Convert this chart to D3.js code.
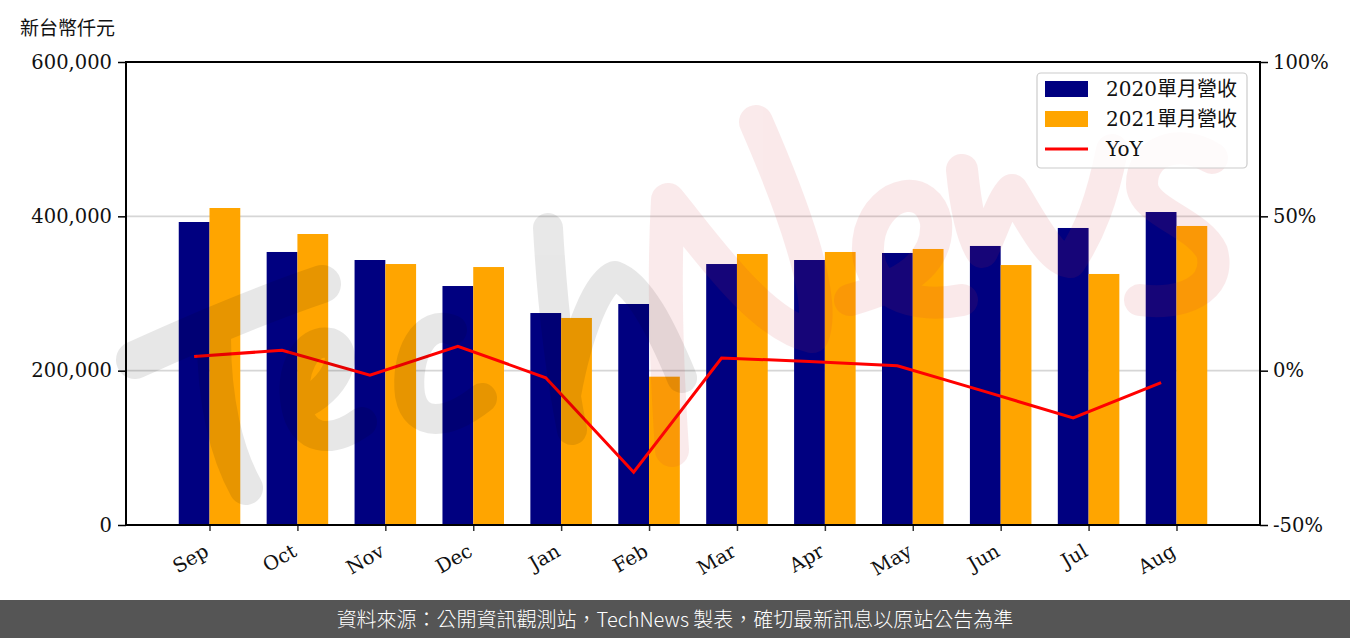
<!DOCTYPE html>
<html><head><meta charset="utf-8">
<script src="https://cdn.jsdelivr.net/npm/d3@7"></script>
<style>
body{margin:0;background:#fff;}
svg{display:block;}
</style></head>
<body>
<svg id="c" width="1350" height="638"></svg>
<script>
const months = ["Sep","Oct","Nov","Dec","Jan","Feb","Mar","Apr","May","Jun","Jul","Aug"];
const rev2020 = [392650, 353800, 343400, 309700, 274700, 286400, 338200, 343400, 352500, 361600, 384900, 405600];
const rev2021 = [410800, 377100, 338200, 334300, 268300, 192200, 351200, 353800, 357700, 336900, 325300, 387500];
const yoy = [4.6, 6.6, -1.5, 7.9, -2.3, -32.9, 4.1, 3.0, 1.6, -6.8, -15.3, -3.9];
const leftTicks = [0, 200000, 400000, 600000];
const rightTicks = [-50, 0, 50, 100];
const seriesNames = ["2020單月營收", "2021單月營收", "YoY"];

const svg = d3.select("#c");
const L = 126, R = 1260, T = 62, B = 525;
const W = 0.35;
const x = d3.scaleLinear().domain([-W/2 - 0.6, months.length - 1 + 1.5*W + 0.6]).range([L, R]);
const y = d3.scaleLinear().domain([0, 600000]).range([B, T]);
const y2 = d3.scaleLinear().domain([-50, 100]).range([B, T]);
const serif = "'DejaVu Serif', 'Liberation Serif', serif";
const cjk = "'Noto Sans CJK TC', 'Noto Sans CJK SC', sans-serif";

// grid
svg.append("g").selectAll("line").data(rightTicks.filter(d => d > -50 && d < 100)).join("line")
  .attr("x1", L).attr("x2", R).attr("y1", d => y2(d)).attr("y2", d => y2(d))
  .attr("stroke", "#d6d6d6").attr("stroke-width", 1.6);

// bars
const bw = x(W) - x(0);
svg.append("g").selectAll("rect").data(rev2020).join("rect")
  .attr("x", (d, i) => x(i) - bw/2).attr("width", bw)
  .attr("y", d => y(d)).attr("height", d => B - y(d)).attr("fill", "#000080");
svg.append("g").selectAll("rect").data(rev2021).join("rect")
  .attr("x", (d, i) => x(i + W) - bw/2).attr("width", bw)
  .attr("y", d => y(d)).attr("height", d => B - y(d)).attr("fill", "#FFA500");

// line
svg.append("path").datum(yoy)
  .attr("d", d3.line().x((d, i) => x(i)).y(d => y2(d)))
  .attr("fill", "none").attr("stroke", "#FF0000").attr("stroke-width", 3);

// watermark (decorative hand-drawn "TechNews")
const wmGray = svg.append("g").attr("opacity", 0.09).attr("fill", "none")
  .attr("stroke", "#000").attr("stroke-linecap", "round").attr("stroke-linejoin", "round");
[
  ["M135,360 C190,335 260,305 322,284", 38],
  ["M214,338 C214,400 226,452 246,488", 34],
  ["M300,405 C335,390 352,352 330,343 C305,338 290,372 296,405 C302,440 330,445 362,422", 30],
  ["M452,330 C425,318 405,355 410,395 C416,428 448,425 482,398", 30],
  ["M548,228 C552,300 560,370 572,430", 30],
  ["M566,395 C578,330 598,282 615,276 C640,285 662,330 682,378", 30]
].forEach(([d, w]) => wmGray.append("path").attr("d", d).attr("stroke-width", w));

const wmPink = svg.append("g").attr("opacity", 0.1).attr("fill", "none")
  .attr("stroke", "#d2323c").attr("stroke-linecap", "round").attr("stroke-linejoin", "round");
[
  ["M672,450 C666,360 664,270 668,200 C705,245 760,325 812,336 C828,300 790,200 756,122", 34],
  ["M850,300 C885,290 940,272 936,222 C928,182 882,190 870,232 C858,282 900,312 962,300", 32],
  ["M962,170 C966,210 972,238 982,252 C996,222 1002,200 1012,190 C1032,222 1050,260 1070,262 C1090,232 1102,200 1112,150", 32],
  ["M1212,158 C1180,138 1142,150 1142,184 C1142,212 1198,222 1212,252 C1222,290 1180,306 1140,300", 32]
].forEach(([d, w]) => wmPink.append("path").attr("d", d).attr("stroke-width", w));

// axes
const fmt = d3.format(",");
const ax = svg.append("g").attr("transform", `translate(${L},0)`)
  .call(d3.axisLeft(y).tickValues(leftTicks).tickFormat(fmt).tickSize(8).tickPadding(6));
const ax2 = svg.append("g").attr("transform", `translate(${R},0)`)
  .call(d3.axisRight(y2).tickValues(rightTicks).tickFormat(d => d + "%").tickSize(8).tickPadding(5));
const axb = svg.append("g").attr("transform", `translate(0,${B})`)
  .call(d3.axisBottom(x).tickValues(months.map((m, i) => i + W/2)).tickFormat((d, i) => months[i]).tickSize(6));
[ax, ax2, axb].forEach(g => {
  g.select(".domain").remove();
  g.selectAll("text").attr("font-family", serif).attr("font-size", 19.5).attr("fill", "#111");
});
ax.selectAll("line").attr("stroke", "#000").attr("stroke-width", 1.5);
ax2.selectAll("line").attr("stroke", "#000").attr("stroke-width", 1.5);
axb.selectAll("line").attr("stroke", "#333").attr("stroke-width", 1.5);
axb.selectAll("text").attr("text-anchor", "end").attr("dy", null).attr("y", null)
  .attr("transform", "translate(0,30) rotate(-30)").attr("dominant-baseline", "auto");

// frame
svg.append("rect").attr("x", L).attr("y", T).attr("width", R - L).attr("height", B - T)
  .attr("fill", "none").attr("stroke", "#000").attr("stroke-width", 2);

// y label
svg.append("text").text("新台幣仟元").attr("x", 20).attr("y", 35)
  .attr("font-family", cjk).attr("font-size", 19).attr("fill", "#111");

// legend
const lg = svg.append("g");
lg.append("rect").attr("x", 1037).attr("y", 73).attr("width", 210).attr("height", 95).attr("rx", 4)
  .attr("fill", "rgba(255,255,255,0.8)").attr("stroke", "#cccccc").attr("stroke-width", 1.2);
const colors = ["#000080", "#FFA500", "#FF0000"];
seriesNames.forEach((n, i) => {
  const cy = 89 + i * 30;
  if (i < 2) lg.append("rect").attr("x", 1045).attr("y", cy - 8).attr("width", 43).attr("height", 16).attr("fill", colors[i]);
  else lg.append("line").attr("x1", 1045).attr("x2", 1088).attr("y1", cy).attr("y2", cy).attr("stroke", colors[i]).attr("stroke-width", 3);
  const t = lg.append("text").attr("x", 1106).attr("y", cy + 7).attr("font-size", 20).attr("fill", "#111");
  const m = n.match(/^([0-9A-Za-z]+)(.*)$/);
  t.append("tspan").attr("font-family", serif).text(m[1]);
  if (m[2]) t.append("tspan").attr("font-family", cjk).text(m[2]);
});

// footer
svg.append("rect").attr("x", 0).attr("y", 600).attr("width", 1350).attr("height", 38).attr("fill", "#555555");
svg.append("text").text("資料來源：公開資訊觀測站，TechNews 製表，確切最新訊息以原站公告為準")
  .attr("x", 675).attr("y", 627).attr("text-anchor", "middle")
  .attr("font-family", cjk).attr("font-size", 20).attr("font-weight", 300).attr("fill", "#ffffff");
</script>
</body></html>
